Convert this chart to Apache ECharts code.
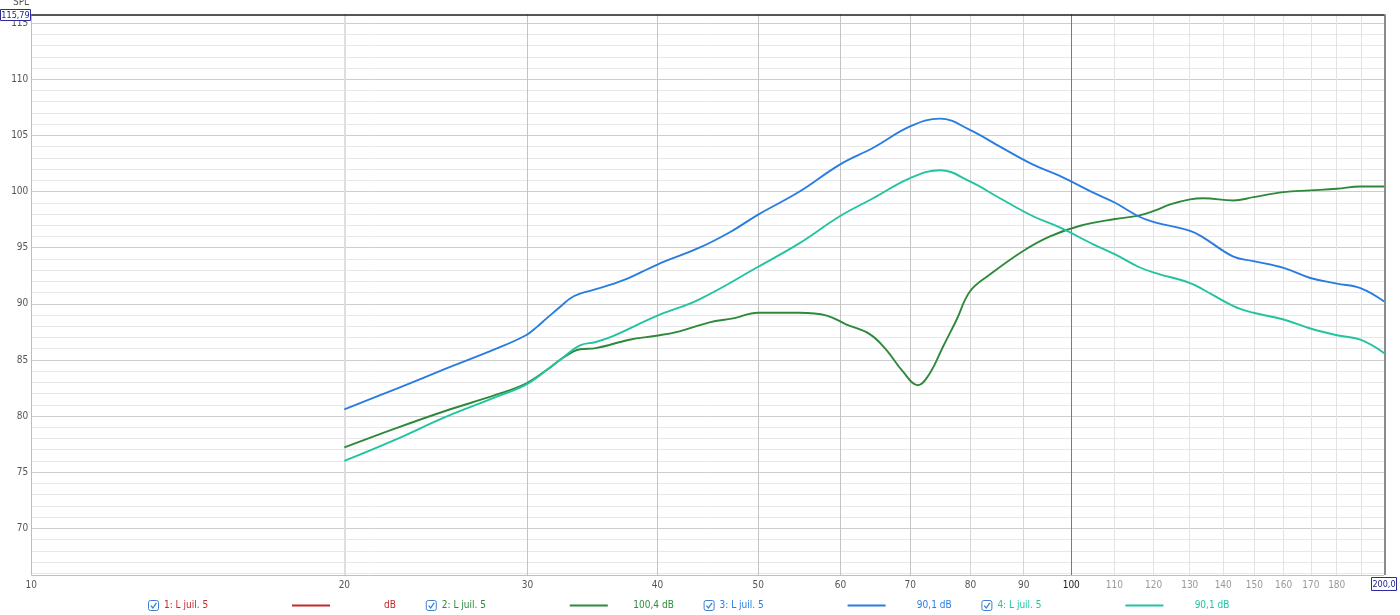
<!DOCTYPE html>
<html>
<head>
<meta charset="utf-8">
<script src="https://cdn.jsdelivr.net/npm/echarts@6/dist/echarts.min.js"></script>
<style>
html,body{margin:0;padding:0;background:#fff;}
#chart{width:1400px;height:615px;}
</style>
</head>
<body>
<div id="chart"></div>
<script>
// ---- data ----
const xGridTicks = [10,20,30,40,50,60,70,80,90,100,110,120,130,140,150,160,170,180,190];
const xTickLabels = [10,20,30,40,50,60,70,80,90,100,110,120,130,140,150,160,170,180];
const yMajor = [70,75,80,85,90,95,100,105,110,115];
const yMinor = [66,67,68,69,71,72,73,74,76,77,78,79,81,82,83,84,86,87,88,89,91,92,93,94,96,97,98,99,101,102,103,104,106,107,108,109,111,112,113,114];
const yMin = 65.84;
const yMax = 115.79;
const xMin = 10;
const xMax = 200;

const freqBlue = [20,22.4,25,28,29.9,30.6,31.3,32.4,33.0,33.7,34.9,37.1,40,43.9,47,50,54.8,59.9,64.5,70,74.8,79.9,85.4,91.9,97.5,105,110.2,116,119.9,130.1,134,143.2,149.7,160,169.8,180.1,189.7,200];
const splBlue  = [80.6,82.4,84.2,86.0,87.2,87.9,88.7,89.9,90.5,90.9,91.3,92.1,93.5,95.0,96.4,97.95,100.0,102.4,103.9,105.8,106.5,105.5,104.0,102.4,101.4,99.9,99.0,97.8,97.3,96.5,95.9,94.2,93.8,93.2,92.3,91.8,91.4,90.2];

const freqTeal = [20,22.4,25,28,29.9,31.3,32.4,33.7,34.9,36.2,39.9,43.9,50,54.8,59.9,64.5,70,74.8,79.9,85.4,91.9,97.5,105,110.2,116,119.9,130.1,134,143.2,149.7,160,169.8,180.1,189.7,200];
const splTeal  = [76.0,77.9,79.9,81.7,82.8,84.1,85.15,86.3,86.6,87.1,88.9,90.4,93.3,95.4,97.8,99.4,101.2,101.9,100.9,99.4,97.8,96.8,95.3,94.4,93.3,92.8,91.85,91.25,89.8,89.2,88.6,87.8,87.2,86.8,85.6];

const freqGreen = [20,22.4,25,28,29.9,31.3,32.4,33.7,34.9,37.6,39.9,42,44.9,47.3,50,54.8,58.2,60.8,64,66.4,68.9,71.2,73.1,75.3,77.6,79.9,83.5,89.9,95.4,102,110.2,116,119.9,124.5,130.1,134,143.2,149.7,160,169.8,180.1,189.7,200];
const splGreen  = [77.2,78.9,80.45,81.9,82.9,84.1,85.15,85.95,86.05,86.8,87.15,87.55,88.35,88.7,89.2,89.2,88.95,88.15,87.3,85.9,83.95,82.75,83.8,86.2,88.6,91.1,92.6,94.7,96.0,96.95,97.55,97.85,98.25,98.85,99.3,99.4,99.2,99.5,99.95,100.1,100.25,100.45,100.45];

const legendNames  = ['1: L juil. 5','2: L juil. 5','3: L juil. 5','4: L juil. 5'];
const legendValues = ['dB','100,4 dB','90,1 dB','90,1 dB'];
const topValueText = '115,79';
const rightValueText = '200,0';
const yAxisName = 'SPL';

// ---- styles ----
const colors = ['#c62828','#2e8a3a','#2a7de0','#22c4a0'];
const FONT = "'Liberation Sans Narrow','DejaVu Sans Condensed',sans-serif";
const FS = 10;

function zip(f, v){ return f.map((x,i)=>[x, v[i]]); }

function vStyle(v){
  if (v === 10) return {color:'#bdbdbd', width:1};
  if (v === 20) return {color:'#dedede', width:2};
  if (v >= 30 && v <= 70) return {color:'#c4c4c4', width:1};
  if (v === 80 || v === 90) return {color:'#d6d6d6', width:1};
  if (v === 100) return {color:'#7a7a7a', width:1};
  return {color:'#e3e3e3', width:1};
}
function xLabelColor(v){
  if (v === 100) return '#222';
  if (v > 100) return '#999';
  return '#555';
}

const gridLines = [];
yMinor.forEach(v => gridLines.push({yAxis:v, lineStyle:{color:'#e8e8e8', width:1, type:'solid'}, label:{show:false}}));
yMajor.forEach(v => gridLines.push({yAxis:v, lineStyle:{color:'#cdcdcd', width:1, type:'solid'},
  label:{show:true, position:'start', formatter:String(v), distance:3, color:'#555', fontSize:FS, fontFamily:FONT}}));
xGridTicks.forEach(v => { const s = vStyle(v); const lab = xTickLabels.indexOf(v) >= 0;
  gridLines.push({xAxis:v, lineStyle:{color:s.color, width:s.width, type:'solid'},
  label: lab ? {show:true, position:'start', formatter:String(v), distance:5, color:xLabelColor(v), fontSize:FS, fontFamily:FONT} : {show:false}}); });
// borders
gridLines.push({yAxis:yMin, lineStyle:{color:'#c0c0c0', width:1, type:'solid'}, label:{show:false}});
gridLines.push({xAxis:xMax, lineStyle:{color:'#666', width:1.5, type:'solid'}, label:{show:false}});
gridLines.push({yAxis:yMax, lineStyle:{color:'#1e1e1e', width:1.5, type:'solid'}, label:{show:false}});

// legend row as graphics
const graphics = [];
const cb0 = 148, step = 277.8;
legendNames.forEach((name, i) => {
  const cb = cb0 + i*step;
  graphics.push({type:'rect', shape:{x:cb+0.5, y:600.5, width:10, height:10, r:2}, style:{fill:'#fff', stroke:'#3b7fd4', lineWidth:1}, silent:true});
  graphics.push({type:'polyline', shape:{points:[[cb+2.8,605.6],[cb+4.9,608],[cb+8.4,602.8]]}, style:{stroke:'#3b7fd4', lineWidth:1.3, fill:null}, silent:true});
  graphics.push({type:'text', x:cb+16, y:605.5, style:{text:name, fill:colors[i], font:FS + 'px ' + FONT, textVerticalAlign:'middle', verticalAlign:'middle'}, silent:true});
  graphics.push({type:'line', shape:{x1:cb+144, y1:605.5, x2:cb+182, y2:605.5}, style:{stroke:colors[i], lineWidth:2}, silent:true});
  graphics.push({type:'text', x:cb+248, y:605.5, style:{text:legendValues[i], fill:colors[i], font:FS + 'px ' + FONT, align:'right', textAlign:'right', verticalAlign:'middle', textVerticalAlign:'middle'}, silent:true});
});
// SPL label and value boxes
graphics.push({type:'text', x:21, y:2, style:{text:yAxisName, fill:'#555', font:FS + 'px ' + FONT, align:'center', textAlign:'center', verticalAlign:'middle', textVerticalAlign:'middle'}, silent:true});
graphics.push({type:'rect', shape:{x:0.5, y:9.5, width:30, height:11}, style:{fill:'#fff', stroke:'#2b2b9b', lineWidth:1}, silent:true, z:10});
graphics.push({type:'text', x:15.5, y:15.2, style:{text:topValueText, fill:'#1c1c8c', font:'9px ' + FONT, align:'center', textAlign:'center', verticalAlign:'middle', textVerticalAlign:'middle'}, silent:true, z:11});
graphics.push({type:'rect', shape:{x:1371.5, y:577.5, width:25, height:13}, style:{fill:'#fff', stroke:'#2b2b9b', lineWidth:1}, silent:true, z:10});
graphics.push({type:'text', x:1384, y:584.2, style:{text:rightValueText, fill:'#1c1c8c', font:'9px ' + FONT, align:'center', textAlign:'center', verticalAlign:'middle', textVerticalAlign:'middle'}, silent:true, z:11});

const chart = echarts.init(document.getElementById('chart'), null, {renderer:'canvas'});
function curve(name, data, color){
  return {type:'line', name, data, showSymbol:false, symbol:'none', smooth:0.4, z:5,
    lineStyle:{color, width:1.9}, itemStyle:{color}, animation:false, silent:true};
}
chart.setOption({
  animation:false,
  backgroundColor:'#fff',
  grid:{left:31.3, right:15.7, top:14.3, bottom:40, containLabel:false},
  xAxis:{type:'log', logBase:10, min:xMin, max:xMax, axisLine:{show:false}, axisTick:{show:false}, axisLabel:{show:false}, splitLine:{show:false}},
  yAxis:{type:'value', min:yMin, max:yMax, axisLine:{show:false}, axisTick:{show:false}, axisLabel:{show:false}, splitLine:{show:false}},
  series:[
    {type:'line', name:legendNames[0], data:[], z:1, silent:true, animation:false, lineStyle:{color:colors[0]},
     markLine:{silent:true, symbol:['none','none'], animation:false, precision:2, data:gridLines}},
    curve(legendNames[1], zip(freqGreen, splGreen), colors[1]),
    curve(legendNames[2], zip(freqBlue, splBlue), colors[2]),
    curve(legendNames[3], zip(freqTeal, splTeal), colors[3])
  ],
  graphic:graphics
});
</script>
</body>
</html>
